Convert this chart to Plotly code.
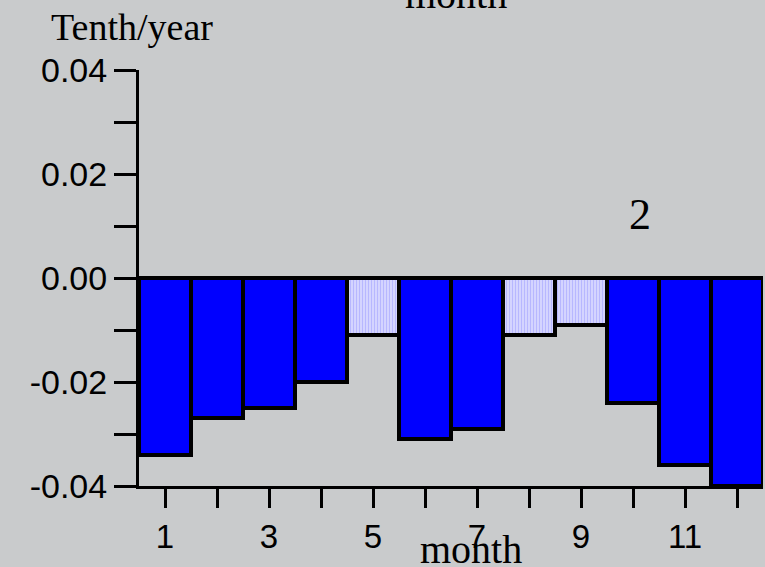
import plotly.graph_objects as go

months = [1, 2, 3, 4, 5, 6, 7, 8, 9, 10, 11, 12]
trend = [-0.034, -0.027, -0.025, -0.020, -0.011, -0.031, -0.029, -0.011, -0.009, -0.024, -0.036, -0.040]
significant = [True, True, True, True, False, True, True, False, False, True, True, True]

x_tick_vals = months
x_tick_text = ["1", "", "3", "", "5", "", "7", "", "9", "", "11", ""]
y_tick_vals = [-0.04, -0.03, -0.02, -0.01, 0.0, 0.01, 0.02, 0.03, 0.04]
y_tick_text = ["-0.04", "", "-0.02", "", "0.00", "", "0.02", "", "0.04"]

sig_x = [m for m, s in zip(months, significant) if s]
sig_y = [v for v, s in zip(trend, significant) if s]
ns_x = [m for m, s in zip(months, significant) if not s]
ns_y = [v for v, s in zip(trend, significant) if not s]

BG = "#c9cbcc"

fig = go.Figure()
fig.add_trace(go.Bar(
    x=sig_x, y=sig_y, width=1,
    marker=dict(color="#0000ff", line=dict(color="black", width=4)),
    showlegend=False,
))
fig.add_trace(go.Bar(
    x=ns_x, y=ns_y, width=1,
    marker=dict(color="#d4d4ff", line=dict(color="black", width=4),
                pattern=dict(shape="|", bgcolor="#d4d4ff", fgcolor="#9a9aff",
                             size=3, solidity=0.35)),
    showlegend=False,
))

serif = "Liberation Serif, Times New Roman, serif"
sans = "Liberation Sans, Arial, sans-serif"

fig.update_layout(
    width=765, height=567,
    margin=dict(l=139, r=2, t=70, b=81),
    paper_bgcolor=BG,
    plot_bgcolor=BG,
    barmode="overlay",
    bargap=0,
    xaxis=dict(
        range=[0.5, 12.5],
        tickvals=x_tick_vals, ticktext=x_tick_text,
        ticks="outside", ticklen=19, tickwidth=3, tickcolor="black",
        showline=True, linecolor="black", linewidth=3,
        showgrid=False, zeroline=False,
        tickfont=dict(family=sans, size=33, color="black"),
    ),
    yaxis=dict(
        range=[-0.04, 0.04],
        tickvals=y_tick_vals, ticktext=y_tick_text,
        ticks="outside", ticklen=22, tickwidth=3, tickcolor="black",
        showline=True, linecolor="black", linewidth=3,
        showgrid=False,
        zeroline=True, zerolinecolor="black", zerolinewidth=3,
        tickfont=dict(family=sans, size=34, color="black"),
    ),
    annotations=[
        dict(text="Tenth/year", xref="paper", yref="paper", x=-0.145, y=1.048,
             xanchor="left", yanchor="bottom", showarrow=False,
             font=dict(family=serif, size=38, color="black")),
        dict(text="month", xref="paper", yref="paper", x=(471 - 139) / 624, y=(486 - 549) / 416,
             xanchor="center", yanchor="middle", showarrow=False,
             font=dict(family=serif, size=40, color="black")),
        dict(text="month", xref="paper", yref="paper", x=(456 - 139) / 624, y=(486 - (-6)) / 416,
             xanchor="center", yanchor="middle", showarrow=False,
             font=dict(family=serif, size=40, color="black")),
        dict(text="2", xref="x", yref="y", x=10.13, y=0.0123,
             xanchor="center", yanchor="middle", showarrow=False,
             font=dict(family=serif, size=44, color="black")),
    ],
)

fig.write_html(
    "out.html",
    config={"displayModeBar": False},
    post_script="document.body.style.margin='0';document.body.style.overflow='hidden';"
                "document.body.style.background='" + BG + "';",
)
